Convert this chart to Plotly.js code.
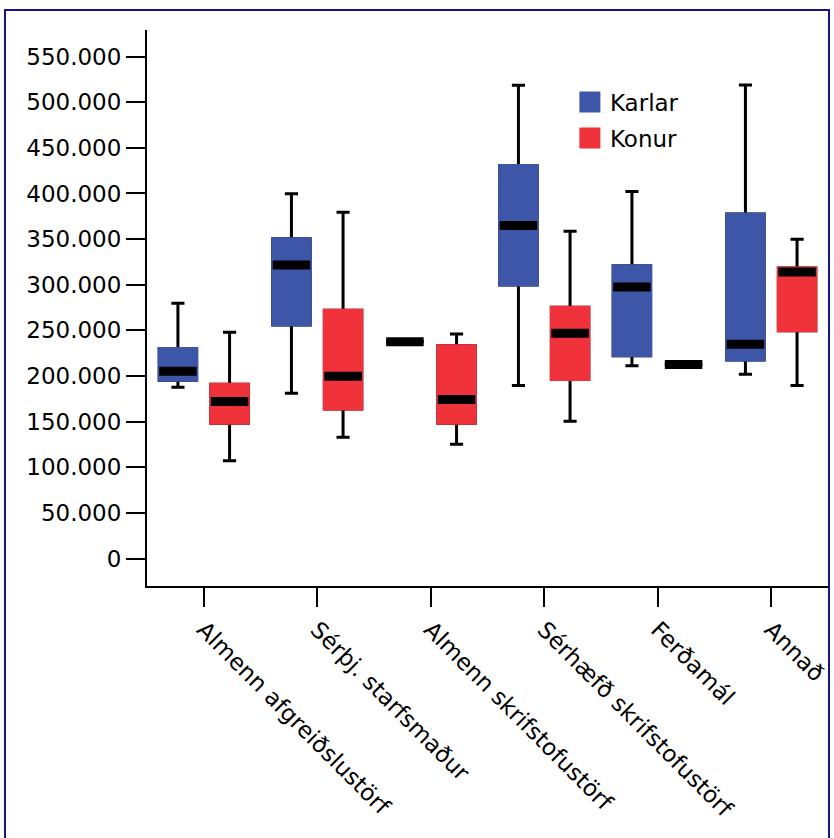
<!DOCTYPE html>
<html>
<head>
<meta charset="utf-8">
<script src="https://cdn.plot.ly/plotly-3.0.1.min.js"></script>
<style>
  html, body { margin: 0; padding: 0; background: #fff; overflow: hidden; }
  #chart { width: 834px; height: 838px; }
  #frame { position: absolute; left: 4px; top: 9px; width: 822px; height: 900px;
           border: 2px solid #141488; pointer-events: none; }
</style>
</head>
<body>
<div id="chart"></div>
<div id="frame"></div>
<script>
// ---- data (monthly wages, ISK) ----
const categories = ['Almenn afgreiðslustörf', 'Sérþj. starfsmaður', 'Almenn skrifstofustörf',
                    'Sérhæfð skrifstofustörf', 'Ferðamál', 'Annað'];

const karlarLower  = [187700, 181100, 237500, 189600, 211100, 202000];
const karlarQ1     = [195400, 255800, 237500, 299700, 222100, 217400];
const karlarMedian = [205300, 321700, 237500, 364800, 297500, 234900];
const karlarQ3     = [230200, 350500, 237500, 430700, 320900, 377600];
const karlarUpper  = [279600, 399600, 237500, 518500, 402100, 518900];

const konurLower  = [107200, 132800, 125100, 150400, 212600, 189600];
const konurQ1     = [148200, 163900, 148200, 196200, 212600, 249500];
const konurMedian = [172000, 199800, 174200, 246700, 212600, 314000];
const konurQ3     = [191000, 271900, 233100, 275200, 212600, 318400];
const konurUpper  = [247800, 379500, 245900, 358600, 212600, 349900];

const seriesNames = ['Karlar', 'Konur'];
const seriesColors = ['#3e56a8', '#f0323a'];

const FONT = 'DejaVu Sans';

function boxTraces(name, color, group, lf, q1, med, q3, uf) {
  const common = {
    type: 'box', x: categories, offsetgroup: group, alignmentgroup: 'all',
    boxpoints: false, showlegend: false, hoverinfo: 'skip', name: name
  };
  return [
    // whiskers + box
    Object.assign({}, common, {
      q1: q1, median: med, q3: q3, lowerfence: lf, upperfence: uf,
      fillcolor: color, line: {color: '#000', width: 3}, whiskerwidth: 0.35
    }),
    // coloured cover for the box outline
    Object.assign({}, common, {
      q1: q1, median: q1, q3: q3, lowerfence: q1, upperfence: q3,
      fillcolor: color, line: {color: color, width: 3}, whiskerwidth: 0
    }),
    // thick black median bar
    Object.assign({}, common, {
      q1: med, median: med, q3: med, lowerfence: med, upperfence: med,
      fillcolor: '#000', line: {color: '#000', width: 9}, whiskerwidth: 0
    })
  ];
}

// legend-only entries (one point with no y value, so nothing is drawn)
function legendTrace(name, color, group) {
  return {
    type: 'scatter', mode: 'markers', x: [categories[0]], y: [null], name: name, legendgroup: group,
    marker: {symbol: 'square', size: 16, color: color, line: {color: color, width: 5}},
    showlegend: true, hoverinfo: 'skip'
  };
}

const data = []
  .concat(boxTraces(seriesNames[0], seriesColors[0], 'k', karlarLower, karlarQ1, karlarMedian, karlarQ3, karlarUpper))
  .concat(boxTraces(seriesNames[1], seriesColors[1], 'f', konurLower, konurQ1, konurMedian, konurQ3, konurUpper))
  .concat([legendTrace(seriesNames[0], seriesColors[0], 'k'), legendTrace(seriesNames[1], seriesColors[1], 'f')]);

const layout = {
  width: 834, height: 838,
  margin: {l: 147, r: 6, t: 30, b: 252, autoexpand: false},
  paper_bgcolor: '#fff', plot_bgcolor: '#fff',
  separators: ',.',
  font: {family: FONT, size: 23, color: '#000'},
  boxmode: 'group', boxgap: 0.09, boxgroupgap: 0.274,
  showlegend: true,
  legend: {x: 0.621, y: 0.909, xanchor: 'left', yanchor: 'top', bgcolor: 'rgba(0,0,0,0)',
           font: {family: FONT, size: 23, color: '#000'}, traceorder: 'grouped', tracegroupgap: 3},
  xaxis: {
    type: 'category', categoryorder: 'array', categoryarray: categories,
    range: [-0.5, 5.5], showgrid: false, zeroline: false,
    showline: true, linecolor: '#000', linewidth: 2,
    ticks: 'outside', ticklen: 19, tickwidth: 2, tickcolor: '#000',
    tickangle: 45,
    tickfont: {family: FONT, size: 23, color: '#000'}
  },
  yaxis: {
    range: [-30100, 579100], tick0: 0, dtick: 50000, tickformat: ',d',
    showgrid: false, zeroline: false,
    showline: true, linecolor: '#000', linewidth: 2,
    ticks: 'outside', ticklen: 19, tickwidth: 2, tickcolor: '#000',
    tickfont: {family: FONT, size: 23, color: '#000'}
  }
};

Plotly.newPlot('chart', data, layout, {staticPlot: true, displayModeBar: false});
</script>
</body>
</html>
